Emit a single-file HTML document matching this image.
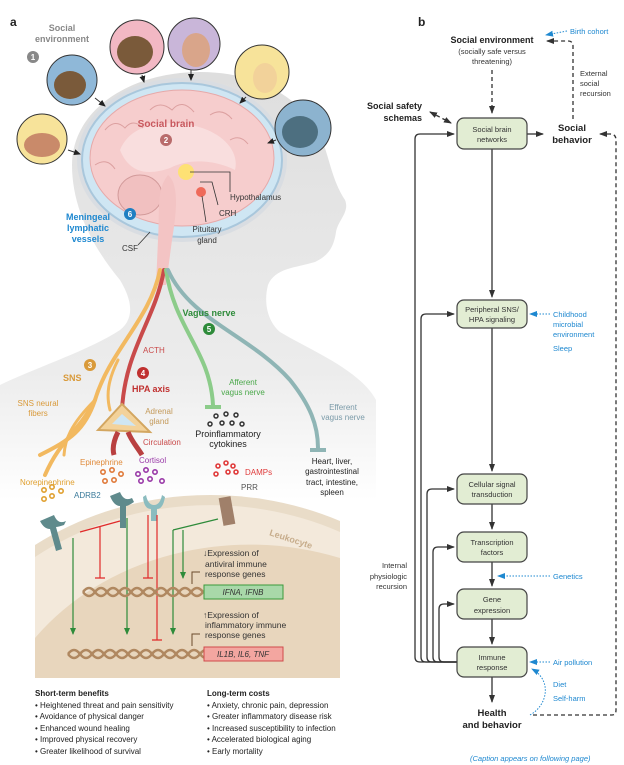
<!DOCTYPE html>
<html><head><meta charset="utf-8"><style>
html,body{margin:0;padding:0;background:#fff;width:624px;height:765px;overflow:hidden}
svg{display:block}
text{font-family:"Liberation Sans",sans-serif}
</style></head><body>
<svg width="624" height="765" viewBox="0 0 624 765" xmlns="http://www.w3.org/2000/svg">
<defs>
<linearGradient id="body" x1="0" y1="0" x2="0" y2="1">
<stop offset="0" stop-color="#dedede"/><stop offset="0.7" stop-color="#ececec"/><stop offset="1" stop-color="#ffffff"/>
</linearGradient>
<marker id="ah" markerWidth="8" markerHeight="8" refX="7" refY="4" orient="auto" markerUnits="userSpaceOnUse"><path d="M0,1 L8,4 L0,7 Z" fill="#333"/></marker>
<marker id="ahs" markerWidth="8" markerHeight="8" refX="1" refY="4" orient="auto" markerUnits="userSpaceOnUse"><path d="M8,1 L0,4 L8,7 Z" fill="#333"/></marker>
<marker id="ab" markerWidth="8" markerHeight="8" refX="7" refY="4" orient="auto" markerUnits="userSpaceOnUse"><path d="M0,1 L8,4 L0,7 Z" fill="#1e88d0"/></marker>
<marker id="ag" markerWidth="7" markerHeight="7" refX="6" refY="3.5" orient="auto" markerUnits="userSpaceOnUse"><path d="M0,0.5 L7,3.5 L0,6.5 Z" fill="#2e8b3a"/></marker>
<marker id="ak" markerWidth="7" markerHeight="7" refX="6" refY="3.5" orient="auto" markerUnits="userSpaceOnUse"><path d="M0,0.5 L7,3.5 L0,6.5 Z" fill="#222"/></marker>
</defs>

<path d="M200,72 C260,72 305,100 322,140 C330,160 332,180 345,200 C350,212 338,220 336,232 C334,245 330,255 315,262 C295,268 275,268 268,285 C264,300 266,320 280,332 C310,350 360,370 376,400 L376,500 L0,500 L0,385 C30,370 90,350 120,330 C135,318 132,300 120,280 C95,250 72,210 72,165 C72,110 130,72 200,72 Z" fill="url(#body)"/>

<ellipse cx="182" cy="160" rx="105" ry="82" fill="#d9dde2"/>
<ellipse cx="182" cy="160" rx="100" ry="77" fill="#cfe6f3" stroke="#a9c7dc" stroke-width="2"/>
<ellipse cx="182" cy="158" rx="92" ry="68" fill="#f6cdcd" stroke="#e6a9a9" stroke-width="1"/>
<path d="M120,150 C130,125 160,120 190,125 C220,130 240,150 235,170 C215,160 190,158 170,168 C150,175 130,175 120,150 Z" fill="#f9dede"/>
<path d="M105,130 q10,-12 20,-2 q8,-10 18,0 M150,110 q10,-10 22,0 q10,-12 22,2 M210,115 q12,-8 22,4 M95,165 q12,-8 20,4 M230,140 q10,-6 18,4 M120,190 q8,-10 18,0" fill="none" stroke="#dca0a0" stroke-width="1"/>
<ellipse cx="140" cy="195" rx="22" ry="20" fill="#f1c0c0" stroke="#d29a9a"/>
<path d="M168,175 C180,185 176,215 172,240 L166,285 L156,285 L158,240 C160,210 156,190 168,175 Z" fill="#f3c4c4"/>
<circle cx="186" cy="172" r="8" fill="#ffe36a" opacity="0.9"/>
<circle cx="201" cy="192" r="5" fill="#ef6a5a"/>
<text x="166" y="127" font-size="10" font-weight="bold" fill="#c8585e" text-anchor="middle">Social brain</text>
<circle cx="166" cy="140" r="6" fill="#b96b6b"/><text x="166" y="143" font-size="8" font-weight="bold" fill="#fff" text-anchor="middle">2</text>
<path d="M190,172 L230,172 L230,192 M200,182 L212,182 L218,205 M202,196 L206,222" fill="none" stroke="#333" stroke-width="0.8"/>
<text x="230" y="200" font-size="8" fill="#333">Hypothalamus</text>
<text x="219" y="216" font-size="8" fill="#333">CRH</text>
<text x="207" y="232" font-size="8" fill="#333" text-anchor="middle">Pituitary</text>
<text x="207" y="243" font-size="8" fill="#333" text-anchor="middle">gland</text>
<text x="88" y="220" font-size="9" font-weight="bold" fill="#1e88d0" text-anchor="middle">Meningeal</text>
<text x="88" y="231" font-size="9" font-weight="bold" fill="#1e88d0" text-anchor="middle">lymphatic</text>
<text x="88" y="242" font-size="9" font-weight="bold" fill="#1e88d0" text-anchor="middle">vessels</text>
<circle cx="130" cy="214" r="6" fill="#1e7fc2"/><text x="130" y="217" font-size="8" font-weight="bold" fill="#fff" text-anchor="middle">6</text>
<path d="M138,245 L150,232" stroke="#333" stroke-width="0.8"/>
<text x="122" y="251" font-size="8" fill="#333">CSF</text>

<text x="10" y="26" font-size="12" font-weight="bold" fill="#222">a</text>
<text x="62" y="31" font-size="9" font-weight="bold" fill="#888" text-anchor="middle">Social</text>
<text x="62" y="42" font-size="9" font-weight="bold" fill="#888" text-anchor="middle">environment</text>
<circle cx="33" cy="57" r="6" fill="#888"/><text x="33" y="60" font-size="8" font-weight="bold" fill="#fff" text-anchor="middle">1</text>
<g stroke="#333" stroke-width="1">
<circle cx="72" cy="80" r="25" fill="#8fb8d8"/>
<circle cx="137" cy="47" r="27" fill="#f2b8c4"/>
<circle cx="194" cy="44" r="26" fill="#c9b6d9"/>
<circle cx="262" cy="72" r="27" fill="#f7e39a"/>
<circle cx="303" cy="128" r="28" fill="#8cb3cf"/>
<circle cx="42" cy="139" r="25" fill="#f7e39a"/>
</g>
<g fill="#7a5a3a"><ellipse cx="70" cy="85" rx="16" ry="14"/><ellipse cx="135" cy="52" rx="18" ry="16"/><ellipse cx="196" cy="50" rx="14" ry="17" fill="#d9a58a"/><ellipse cx="265" cy="78" rx="12" ry="15" fill="#f2d29a"/><ellipse cx="300" cy="132" rx="18" ry="16" fill="#4d6f80"/><ellipse cx="42" cy="145" rx="18" ry="12" fill="#c98a6a"/></g>
<g stroke="#333" stroke-width="1" fill="none" marker-end="url(#ak)">
<path d="M95,98 L105,106"/><path d="M142,75 L144,82"/><path d="M191,70 L191,80"/><path d="M246,97 L240,103"/><path d="M276,140 L268,143"/><path d="M68,150 L80,154"/>
</g>

<g fill="none" stroke-linecap="round">
<path d="M160,270 C150,320 110,350 95,400 C85,430 70,440 40,455" stroke="#f2b960" stroke-width="4"/>
<path d="M95,400 C80,430 60,440 45,475" stroke="#f2b960" stroke-width="4"/>
<path d="M95,400 C70,425 65,440 64,455" stroke="#f2b960" stroke-width="3"/>
<path d="M118,360 C108,380 106,395 110,410" stroke="#f2b960" stroke-width="3"/>
<path d="M164,270 C155,320 125,350 122,410" stroke="#c94a4a" stroke-width="4"/>
<path d="M166,270 C175,330 210,350 213,405" stroke="#8ccc8a" stroke-width="4"/>
<path d="M168,270 C190,320 250,335 290,380 C310,405 318,425 318,448" stroke="#8fb5b5" stroke-width="4"/>
</g>
<path d="M205,407 L221,407" stroke="#8ccc8a" stroke-width="4"/>
<path d="M310,450 L326,450" stroke="#8fb5b5" stroke-width="4"/>
<path d="M98,430 L122,404 L150,432 Z" fill="#f3d29a" stroke="#d3a660" stroke-width="2"/>
<path d="M112,424 L122,414 L136,426 Z" fill="#cfe6f3"/>
<path d="M118,432 C114,440 112,448 114,455 M128,432 C132,442 138,448 142,455" stroke="#b94040" stroke-width="5" fill="none"/>

<text x="209" y="316" font-size="9" font-weight="bold" fill="#2e8b3a" text-anchor="middle">Vagus nerve</text>
<circle cx="209" cy="329" r="6" fill="#2e8b3a"/><text x="209" y="332" font-size="8" font-weight="bold" fill="#fff" text-anchor="middle">5</text>
<text x="143" y="353" font-size="8" fill="#c94a4a">ACTH</text>
<circle cx="90" cy="365" r="6" fill="#d99a3a"/><text x="90" y="368" font-size="8" font-weight="bold" fill="#fff" text-anchor="middle">3</text>
<text x="63" y="381" font-size="9" font-weight="bold" fill="#d99a3a">SNS</text>
<circle cx="143" cy="373" r="6" fill="#c0302f"/><text x="143" y="376" font-size="8" font-weight="bold" fill="#fff" text-anchor="middle">4</text>
<text x="132" y="392" font-size="9" font-weight="bold" fill="#c0302f">HPA axis</text>
<text x="38" y="406" font-size="8" fill="#d99a3a" text-anchor="middle">SNS neural</text>
<text x="38" y="416" font-size="8" fill="#d99a3a" text-anchor="middle">fibers</text>
<text x="159" y="414" font-size="8" fill="#c49a5a" text-anchor="middle">Adrenal</text>
<text x="159" y="424" font-size="8" fill="#c49a5a" text-anchor="middle">gland</text>
<text x="143" y="445" font-size="8" fill="#c94a4a">Circulation</text>
<text x="243" y="385" font-size="8" fill="#4aa84a" text-anchor="middle">Afferent</text>
<text x="243" y="395" font-size="8" fill="#4aa84a" text-anchor="middle">vagus nerve</text>
<text x="343" y="410" font-size="8" fill="#7a9aa8" text-anchor="middle">Efferent</text>
<text x="343" y="420" font-size="8" fill="#7a9aa8" text-anchor="middle">vagus nerve</text>
<g fill="none" stroke="#333" stroke-width="1.5"><circle cx="216" cy="416" r="2"/><circle cx="226" cy="414" r="2"/><circle cx="236" cy="415" r="2"/><circle cx="210" cy="424" r="2"/><circle cx="222" cy="423" r="2"/><circle cx="232" cy="423" r="2"/><circle cx="242" cy="424" r="2"/></g>
<text x="228" y="437" font-size="9" fill="#222" text-anchor="middle">Proinflammatory</text>
<text x="228" y="447" font-size="9" fill="#222" text-anchor="middle">cytokines</text>
<g font-size="8" fill="#222" text-anchor="middle"><text x="332" y="464">Heart, liver,</text><text x="332" y="474">gastrointestinal</text><text x="332" y="485">tract, intestine,</text><text x="332" y="495">spleen</text></g>

<path d="M35,545 A300,265 0 0,1 340,521 L340,678 L35,678 Z" fill="#e9dcc8"/>
<path d="M35,557 A290,255 0 0,1 340,532 L340,678 L35,678 Z" fill="#f3e9db"/>
<path d="M35,638 A265,225 0 0,1 340,558 L340,678 L35,678 Z" fill="#e8d6bd"/>
<text x="290" y="542" font-size="9" font-weight="bold" fill="#c7ad8c" transform="rotate(18 290 542)" text-anchor="middle">Leukocyte</text>

<text x="80" y="465" font-size="8" fill="#e08a3a">Epinephrine</text>
<text x="139" y="463" font-size="8" fill="#9a3aa8">Cortisol</text>
<text x="245" y="475" font-size="8" fill="#e03a3a">DAMPs</text>
<text x="241" y="490" font-size="8" fill="#555">PRR</text>
<text x="20" y="485" font-size="8" fill="#e0a030">Norepinephrine</text>
<text x="74" y="498" font-size="8" fill="#3a7a9a">ADRB2</text>
<g fill="none" stroke-width="1.6">
<g stroke="#e0a030"><circle cx="44" cy="490" r="2.2"/><circle cx="52" cy="487" r="2.2"/><circle cx="61" cy="491" r="2.2"/><circle cx="44" cy="499" r="2.2"/><circle cx="52" cy="496" r="2.2"/></g>
<g stroke="#e07a3a"><circle cx="103" cy="472" r="2.2"/><circle cx="112" cy="470" r="2.2"/><circle cx="121" cy="474" r="2.2"/><circle cx="105" cy="481" r="2.2"/><circle cx="114" cy="480" r="2.2"/></g>
<g stroke="#9a3aa8"><circle cx="138" cy="474" r="2.2"/><circle cx="146" cy="470" r="2.2"/><circle cx="155" cy="472" r="2.2"/><circle cx="141" cy="481" r="2.2"/><circle cx="150" cy="479" r="2.2"/><circle cx="162" cy="481" r="2.2"/></g>
<g stroke="#e03a3a"><circle cx="218" cy="466" r="2"/><circle cx="226" cy="463" r="2"/><circle cx="233" cy="466" r="2"/><circle cx="216" cy="474" r="2"/><circle cx="228" cy="472" r="2"/><circle cx="236" cy="472" r="2"/></g>
</g>
<g fill="#5f8a8c">
<path d="M54,515 q4,10 12,6 l-2,4 q-6,2 -8,2 l6,22 l-6,2 l-6,-22 q-6,0 -10,-8 z"/>
<path d="M120,492 q4,10 12,6 l2,4 q-6,4 -8,4 l0,22 l-6,0 l0,-22 q-6,0 -10,-10 z"/>
</g>
<path d="M146,495 q2,10 8,10 q6,0 8,-10 l3,2 q-2,12 -8,12 l0,12 l-6,0 l0,-12 q-7,0 -8,-12 z" fill="#8bbcbf"/>
<rect x="221" y="497" width="12" height="28" fill="#a0806a" transform="rotate(-10 227 511)"/>
<g fill="none" stroke-width="1.2">
<path d="M73,538 L73,634" stroke="#2e8b3a" marker-end="url(#ag)"/>
<path d="M127,518 L127,634" stroke="#2e8b3a" marker-end="url(#ag)"/>
<path d="M173,530 L173,634" stroke="#2e8b3a" marker-end="url(#ag)"/>
<path d="M183,530 L183,578" stroke="#2e8b3a" marker-end="url(#ag)"/>
<path d="M173,530 L218,519" stroke="#2e8b3a"/>
<path d="M80,532 L120,521" stroke="#e02a2a"/>
<path d="M100,527 L100,578 M95,578 L105,578" stroke="#e02a2a"/>
<path d="M148,515 L148,578 M143,578 L153,578" stroke="#e02a2a"/>
<path d="M157,515 L157,640 M152,640 L162,640" stroke="#e02a2a"/>
</g>
<g fill="none" stroke="#b08860" stroke-width="2.5">
<path d="M83,592 q6,-8 12,0 t12,0 t12,0 t12,0 t12,0 t12,0 t12,0 t12,0 t12,0 t12,0"/>
<path d="M83,592 q6,8 12,0 t12,0 t12,0 t12,0 t12,0 t12,0 t12,0 t12,0 t12,0 t12,0"/>
<path d="M68,654 q6,-8 12,0 t12,0 t12,0 t12,0 t12,0 t12,0 t12,0 t12,0 t12,0 t12,0 t12,0 t12,0"/>
<path d="M68,654 q6,8 12,0 t12,0 t12,0 t12,0 t12,0 t12,0 t12,0 t12,0 t12,0 t12,0 t12,0 t12,0"/>
</g>
<path d="M192,584 L192,572 L200,572 M192,646 L192,634 L200,634" fill="none" stroke="#6a4a2a" stroke-width="1"/>
<g font-size="8.5" fill="#333"><text x="203" y="556">↓Expression of</text><text x="205" y="567">antiviral immune</text><text x="205" y="577">response genes</text>
<text x="203" y="618">↑Expression of</text><text x="205" y="628">inflammatory immune</text><text x="205" y="638">response genes</text></g>
<rect x="204" y="585" width="79" height="14" fill="#a9d8a9" stroke="#3a9a3a"/>
<text x="243" y="595" font-size="8" font-style="italic" fill="#333" text-anchor="middle">IFNA, IFNB</text>
<rect x="204" y="647" width="79" height="14" fill="#f3a6a0" stroke="#d04a4a"/>
<text x="243" y="657" font-size="8" font-style="italic" fill="#333" text-anchor="middle">IL1B, IL6, TNF</text>

<g font-size="8" fill="#222">
<text x="35" y="696" font-weight="bold">Short-term benefits</text>
<text x="35" y="708">• Heightened threat and pain sensitivity</text>
<text x="35" y="719">• Avoidance of physical danger</text>
<text x="35" y="731">• Enhanced wound healing</text>
<text x="35" y="742">• Improved physical recovery</text>
<text x="35" y="754">• Greater likelihood of survival</text>
<text x="207" y="696" font-weight="bold">Long-term costs</text>
<text x="207" y="708">• Anxiety, chronic pain, depression</text>
<text x="207" y="719">• Greater inflammatory disease risk</text>
<text x="207" y="731">• Increased susceptibility to infection</text>
<text x="207" y="742">• Accelerated biological aging</text>
<text x="207" y="754">• Early mortality</text>
</g>

<text x="418" y="26" font-size="12" font-weight="bold" fill="#222">b</text>
<text x="492" y="43" font-size="9" font-weight="bold" fill="#222" text-anchor="middle">Social environment</text>
<text x="492" y="54" font-size="7.5" fill="#333" text-anchor="middle">(socially safe versus</text>
<text x="492" y="64" font-size="7.5" fill="#333" text-anchor="middle">threatening)</text>
<text x="422" y="109" font-size="9" font-weight="bold" fill="#222" text-anchor="end">Social safety</text>
<text x="422" y="121" font-size="9" font-weight="bold" fill="#222" text-anchor="end">schemas</text>
<text x="572" y="131" font-size="9.5" font-weight="bold" fill="#222" text-anchor="middle">Social</text>
<text x="572" y="143" font-size="9.5" font-weight="bold" fill="#222" text-anchor="middle">behavior</text>
<text x="580" y="76" font-size="7.5" fill="#333">External</text>
<text x="580" y="86" font-size="7.5" fill="#333">social</text>
<text x="580" y="96" font-size="7.5" fill="#333">recursion</text>
<text x="570" y="34" font-size="7.5" fill="#1e88d0">Birth cohort</text>

<g fill="none" stroke="#333" stroke-width="1.3" stroke-dasharray="4,3">
<path d="M492,70 L492,113" marker-end="url(#ah)"/>
<path d="M430,112 L451,123" marker-start="url(#ahs)" marker-end="url(#ah)"/>
<path d="M573,119 L573,46 Q573,41 568,41 L547,41" marker-end="url(#ah)"/>
<path d="M533,715 L612,715 Q616,715 616,710 L616,140 Q616,134 610,134 L600,134" marker-end="url(#ah)"/>
</g>
<g fill="none" stroke="#1e88d0" stroke-width="1" stroke-dasharray="1.5,1.5">
<path d="M567,31 L546,35" marker-end="url(#ab)"/>
<path d="M550,314 L530,314" marker-end="url(#ab)"/>
<path d="M550,576 L498,576" marker-end="url(#ab)"/>
<path d="M550,662 L530,662" marker-end="url(#ab)"/>
<path d="M530,715 C548,705 552,680 532,669" marker-end="url(#ab)"/>
</g>
<g font-size="7.5" fill="#1e88d0">
<text x="553" y="317">Childhood</text><text x="553" y="327">microbial</text><text x="553" y="337">environment</text><text x="553" y="351">Sleep</text>
<text x="553" y="579">Genetics</text>
<text x="553" y="665">Air pollution</text>
<text x="553" y="687">Diet</text><text x="553" y="701">Self-harm</text>
</g>

<g fill="none" stroke="#333" stroke-width="1.3">
<path d="M527,134 L543,134" marker-end="url(#ah)"/>
<path d="M492,149 L492,297" marker-end="url(#ah)"/>
<path d="M492,328 L492,471" marker-end="url(#ah)"/>
<path d="M492,504 L492,529" marker-end="url(#ah)"/>
<path d="M492,562 L492,586" marker-end="url(#ah)"/>
<path d="M492,619 L492,644" marker-end="url(#ah)"/>
<path d="M492,677 L492,702" marker-end="url(#ah)"/>
<path d="M457,662 L420,662 Q415,662 415,657 L415,139 Q415,134 420,134 L454,134" marker-end="url(#ah)"/>
<path d="M457,662 L426,662 Q421,662 421,657 L421,319 Q421,314 426,314 L454,314" marker-end="url(#ah)"/>
<path d="M457,662 L432,662 Q427,662 427,657 L427,494 Q427,489 432,489 L454,489" marker-end="url(#ah)"/>
<path d="M457,662 L438,662 Q433,662 433,657 L433,552 Q433,547 438,547 L454,547" marker-end="url(#ah)"/>
<path d="M457,662 L444,662 Q439,662 439,657 L439,609 Q439,604 444,604 L454,604" marker-end="url(#ah)"/>
</g>
<g fill="#e2edd3" stroke="#444" stroke-width="1.2">
<rect x="457" y="118" width="70" height="31" rx="7"/>
<rect x="457" y="300" width="70" height="28" rx="7"/>
<rect x="457" y="474" width="70" height="30" rx="7"/>
<rect x="457" y="532" width="70" height="30" rx="7"/>
<rect x="457" y="589" width="70" height="30" rx="7"/>
<rect x="457" y="647" width="70" height="30" rx="7"/>
</g>
<g font-size="7.5" fill="#333" text-anchor="middle">
<text x="492" y="132">Social brain</text><text x="492" y="142">networks</text>
<text x="492" y="312">Peripheral SNS/</text><text x="492" y="322">HPA signaling</text>
<text x="492" y="487">Cellular signal</text><text x="492" y="497">transduction</text>
<text x="492" y="545">Transcription</text><text x="492" y="555">factors</text>
<text x="492" y="602">Gene</text><text x="492" y="613">expression</text>
<text x="492" y="660">Immune</text><text x="492" y="670">response</text>
</g>
<text x="492" y="716" font-size="9.5" font-weight="bold" fill="#222" text-anchor="middle">Health</text>
<text x="492" y="728" font-size="9.5" font-weight="bold" fill="#222" text-anchor="middle">and behavior</text>
<g font-size="7.5" fill="#333" text-anchor="end"><text x="407" y="568">Internal</text><text x="407" y="579">physiologic</text><text x="407" y="589">recursion</text></g>
<text x="470" y="761" font-size="7.5" font-style="italic" fill="#1e88d0">(Caption appears on following page)</text>
</svg>
</body></html>
